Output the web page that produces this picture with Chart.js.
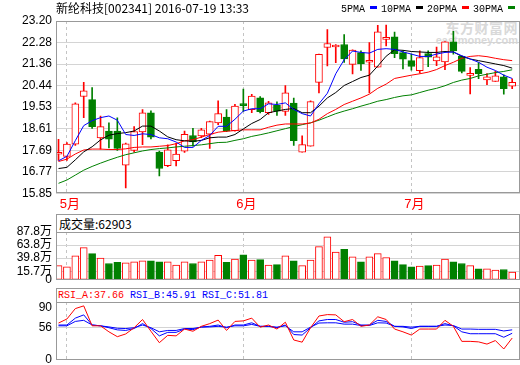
<!DOCTYPE html>
<html>
<head>
<meta charset="utf-8">
<title>新纶科技 002341</title>
<script src="https://cdn.jsdelivr.net/npm/chart.js@4.4.1/dist/chart.umd.min.js"></script>
<style>
  body { margin: 0; width: 520px; height: 365px; background: #fff; position: relative; overflow: hidden; }
  canvas { position: absolute; left: 0; }
  #mainChart { top: 0; }
  #volChart { top: 214px; }
  #rsiChart { top: 288px; }
  .txt { position: absolute; white-space: nowrap; }
  #title { left: 56px; top: 1px; font: 12px/14px "Noto Sans CJK SC", sans-serif; color: #000; }
  #legend { left: 341px; top: 4px; font: 10px/12px "Liberation Mono", monospace; color: #000; }
  #legend i { display: inline-block; width: 7px; height: 3px; margin: 0 4px 0 5px; vertical-align: 3px; }
  .wm { position: absolute; right: 2px; color: #d9d9d9; font-weight: bold; white-space: nowrap; }
  #wm1 { top: 19px; font: bold 14px/16px "Noto Sans CJK SC", sans-serif; letter-spacing: 0.5px; }
  #wm2 { top: 34px; font: bold 11px/12px "Liberation Sans", sans-serif; }
  .head { position: absolute; left: 56px; width: 464px; box-sizing: border-box; border: 1px solid #999; background: #fff; white-space: nowrap; }
  #volHead { top: 214px; height: 19px; padding-left: 2px; font: 12px/17px "Noto Sans CJK SC", sans-serif; }
  #rsiHead { top: 288px; height: 15px; padding-left: 1px; font: 10px/13px "Liberation Mono", monospace; }
</style>
</head>
<body>
<div class="wm" id="wm1">东方财富网</div>
<div class="wm" id="wm2">eastmoney.com</div>
<canvas id="mainChart" width="520" height="215"></canvas>
<canvas id="volChart" width="520" height="77"></canvas>
<canvas id="rsiChart" width="520" height="83"></canvas>
<div class="txt" id="title">新纶科技[002341] 2016-07-19 13:33</div>
<div class="txt" id="legend">5PMA<i style="background:#0000ff"></i>10PMA<i style="background:#000"></i>20PMA<i style="background:#ff0000"></i>30PMA<i style="background:#008000"></i></div>
<div class="head" id="volHead">成交量:62903</div>
<div class="head" id="rsiHead"><span style="color:#ff0000">RSI_A:37.66</span> <span style="color:#0000ff">RSI_B:45.91</span> <span style="color:#0000ff">RSI_C:51.81</span></div>
<script>
// daily candles, 2016-04-29 .. 2016-07-19
const opens  = [17.52,17.43,17.95,19.98,19.85,18.21,18.51,18.51,17.05,17.68, 18.47,19.29,17.61,17.03,17.25,17.65,18.32,18.30,18.37,18.86, 19.10,18.52,19.63,19.42,19.92,19.29,19.61,19.34,19.70,17.61, 17.86,20.58,22.07,22.09,22.20,21.35,21.85,21.44,21.23,22.42, 22.53,21.85,21.51,21.08,21.81,21.50,21.46,22.31,21.69,20.88, 21.14,20.69,20.62,20.82,20.42];
const highs  = [18.16,18.02,19.71,20.59,20.36,19.15,18.86,19.07,18.00,18.70, 19.42,19.37,17.65,17.92,17.98,18.51,18.62,18.62,18.93,19.80, 19.42,19.65,20.30,20.07,19.98,19.78,19.75,20.45,19.91,18.30, 19.80,21.79,22.83,22.20,22.62,21.97,21.93,22.28,23.02,23.03, 22.73,21.93,21.79,21.93,21.93,22.09,22.32,22.76,21.72,21.21, 21.43,20.96,21.05,20.91,20.73];
const lows   = [17.26,17.26,17.90,19.08,18.62,17.74,17.79,17.68,16.08,17.61, 17.93,18.17,16.59,16.99,17.02,17.60,17.86,18.23,17.77,18.78, 18.48,18.50,19.35,19.29,19.28,19.22,19.17,19.17,17.90,17.61, 17.86,20.13,21.29,21.42,21.43,20.94,21.09,20.13,21.23,22.14, 21.64,21.16,21.10,20.98,21.25,21.30,21.13,21.79,20.99,20.09, 20.74,20.49,20.62,20.08,20.31];
const closes = [17.55,17.95,19.67,20.22,18.70,18.70,18.16,17.77,17.96,18.49, 19.29,18.25,16.91,17.71,17.53,18.37,18.05,18.56,18.91,19.25, 18.50,19.57,19.59,20.00,19.33,19.71,19.36,20.14,18.10,17.93, 19.76,21.78,22.24,22.11,21.58,21.96,21.37,21.52,22.74,22.45, 21.81,21.57,21.26,21.64,21.66,21.67,22.31,21.92,21.05,20.97, 20.95,20.82,20.86,20.32,20.58];

// moving averages
const ma5  = [17.24,17.43,18.10,18.74,18.95,19.08,19.15,18.97,18.36,18.32, 18.39,18.36,18.22,18.18,18.04,17.81,17.81,18.11,18.32,18.71, 18.71,19.01,19.36,19.46,19.46,19.67,19.64,19.71,19.43,19.25, 19.15,19.67,20.12,20.95,21.55,21.92,21.86,21.83,21.99,22.02, 21.99,21.88,21.79,21.69,21.69,21.79,21.86,21.88,21.72,21.58, 21.44,21.23,21.09,20.89,20.75];
const ma10 = [16.91,16.96,17.28,17.62,17.84,18.13,18.33,18.40,18.44,18.51, 18.72,18.72,18.51,18.26,18.14,18.09,18.07,18.11,18.22,18.25, 18.25,18.36,18.60,18.83,19.00,19.29,19.36,19.43,19.47,19.29, 19.29,19.57,19.92,20.15,20.45,20.62,20.79,20.89,21.28,21.70, 21.97,21.95,21.90,21.88,21.86,21.86,21.90,21.88,21.69,21.58, 21.51,21.44,21.37,21.30,21.19];
const ma20 = [17.21,17.31,17.53,17.70,17.74,17.74,17.72,17.72,17.75,17.81, 17.83,17.83,17.86,17.89,17.97,18.09,18.14,18.25,18.36,18.46, 18.50,18.53,18.56,18.56,18.56,18.67,18.76,18.81,18.81,18.81, 18.85,19.01,19.25,19.43,19.64,19.78,19.92,20.08,20.33,20.51, 20.75,20.82,20.89,20.95,21.02,21.13,21.30,21.44,21.61,21.69, 21.72,21.68,21.61,21.55,21.51];
const ma30 = [16.28,16.42,16.63,16.84,17.00,17.14,17.27,17.39,17.50,17.58, 17.66,17.72,17.76,17.79,17.83,17.86,17.89,17.92,17.97,18.02, 18.03,18.11,18.18,18.28,18.35,18.43,18.52,18.61,18.70,18.78, 18.86,18.97,19.11,19.25,19.36,19.46,19.57,19.67,19.78,19.85, 19.94,20.01,20.05,20.15,20.25,20.33,20.44,20.58,20.68,20.75, 20.86,20.93,21.00,21.05,21.12];

// volume in 万
const volumes = [26,24,44,59,48,40,30,32,31,33, 35,35,33,33,27,33,30,33,36,45, 32,38,46,36,37,27,28,44,35,26, 36,61,79,51,56,42,33,42,48,41, 35,28,24,25,26,27,38,33,30,26, 20,20,18,19,14];

const rsiA = [63.6,70.6,88.6,93.3,58.8,58.8,48.4,40.0,44.7,55.5, 69.7,49.4,29.6,42.3,41.4,53.2,49.4,57.9,62.6,68.7, 50.8,66.4,67.3,72.1,56.5,60.2,53.2,65.0,34.3,30.5, 55.5,75.8,78.2,77.7,65.9,69.7,57.9,60.2,74.4,69.7, 53.2,48.4,42.8,53.2,53.2,53.2,68.3,57.9,31.9,31.9, 31.0,27.2,33.3,18.7,37.66];
const rsiB = [60.2,60.2,72.1,77.7,60.2,58.8,55.5,51.8,50.8,54.1, 62.6,54.1,41.4,47.5,47.5,53.2,52.2,56.9,57.9,60.2, 55.5,60.2,60.2,64.0,57.9,57.9,55.5,60.2,43.7,42.8, 55.5,67.3,69.7,69.7,65.0,65.9,60.2,60.2,68.3,66.4, 57.9,56.9,54.1,57.9,57.9,57.9,62.6,58.8,48.4,45.1, 45.1,45.1,45.1,39.0,45.91];
const rsiC = [58.8,58.8,66.4,68.3,60.2,58.8,56.9,54.6,54.1,55.5, 60.2,55.5,48.4,50.8,50.8,54.1,54.1,56.5,56.9,57.9, 56.5,58.8,58.8,61.2,57.9,57.9,56.5,58.8,48.4,48.4, 56.5,63.6,64.0,64.0,61.7,61.7,59.3,59.3,64.0,63.6, 57.9,57.9,56.5,57.9,57.9,57.9,60.2,59.3,53.2,53.2, 52.7,52.7,52.7,49.9,51.81];

const priceTicks = [15.85, 16.77, 17.69, 18.61, 19.53, 20.44, 21.36, 22.28, 23.20];
const volTicks = [0, 15.7, 39.8, 63.8, 87.8];
const rsiTicks = [0, 56, 90];
const monthStart = [1, 22, 42];
const monthNames = ['5月', '6月', '7月'];

const upColor = '#ff0000';
const downColor = '#008000';
const idx = closes.map((c, i) => i);
const isUp = closes.map((c, i) => c >= opens[i]);

Chart.defaults.font.family = '"Liberation Sans", "Noto Sans CJK SC", sans-serif';
Chart.defaults.font.size = 12;
Chart.defaults.color = '#000';

// box around the plot area
const frameBox = {
    id: 'frameBox',
    afterDraw(chart) {
        const a = chart.chartArea;
        const ctx = chart.ctx;
        const x1 = Math.round(a.left) + 0.5, y1 = Math.round(a.top) + 0.5;
        const x2 = Math.round(a.right) - 0.5, y2 = Math.round(a.bottom) - 0.5;
        ctx.save();
        ctx.strokeStyle = '#999';
        ctx.lineWidth = 1;
        ctx.strokeRect(x1, y1, x2 - x1, y2 - y1);
        ctx.restore();
    }
};

function makeX(showLabels) {
    return {
        type: 'linear',
        min: -0.3,
        max: 54.93,
        offset: false,
        afterBuildTicks: s => { s.ticks = monthStart.map(v => ({ value: v })); },
        grid: { color: '#c4c4c4', drawTicks: false, offset: false },
        border: { display: false, dash: [3, 3] },
        ticks: {
            display: showLabels,
            autoSkip: false,
            maxRotation: 0,
            padding: 3,
            labelOffset: 3,
            color: '#ff0000',
            font: { size: 13 },
            callback: v => monthNames[monthStart.indexOf(v)] || ''
        }
    };
}

function makeY(min, max, tickList, gridColor, fmt) {
    return {
        min: min,
        max: max,
        afterBuildTicks: s => { s.ticks = tickList.map(v => ({ value: v })); },
        afterFit: s => { s.width = 56; },
        grid: { color: gridColor, drawTicks: false },
        border: { display: false },
        ticks: { padding: 4, autoSkip: false, callback: fmt }
    };
}

function lineSet(values, color) {
    return {
        type: 'line',
        data: values.map((v, i) => ({ x: i, y: v })),
        borderColor: color,
        borderWidth: 1,
        pointRadius: 0,
        tension: 0,
        order: 1
    };
}

const baseOptions = {
    responsive: false,
    animation: false,
    plugins: { legend: { display: false }, tooltip: { enabled: false } }
};

new Chart(document.getElementById('mainChart'), {
    type: 'line',
    data: {
        datasets: [
            {
                type: 'bar',
                data: idx.map(i => ({ x: i, y: [lows[i], highs[i]] })),
                backgroundColor: idx.map(i => isUp[i] ? upColor : downColor),
                barThickness: 1,
                grouped: false,
                order: 3
            },
            {
                type: 'bar',
                data: idx.map(i => ({ x: i, y: [opens[i], closes[i]] })),
                backgroundColor: idx.map(i => isUp[i] ? '#ffffff' : downColor),
                borderColor: idx.map(i => isUp[i] ? upColor : downColor),
                borderWidth: 1,
                borderSkipped: false,
                minBarLength: 2,
                barThickness: 7,
                grouped: false,
                order: 2
            },
            lineSet(ma5, '#0000ff'),
            lineSet(ma10, '#000000'),
            lineSet(ma20, '#ff0000'),
            lineSet(ma30, '#008000')
        ]
    },
    options: Object.assign({}, baseOptions, {
        layout: { padding: { top: 21, right: 0, bottom: 0, left: 0 } },
        scales: {
            x: makeX(true),
            y: makeY(15.85, 23.20, priceTicks, '#d4d4d4', v => v.toFixed(2))
        }
    }),
    plugins: [frameBox]
});

new Chart(document.getElementById('volChart'), {
    type: 'line',
    data: {
        datasets: [{
            type: 'bar',
            data: idx.map(i => ({ x: i, y: volumes[i] })),
            backgroundColor: idx.map(i => isUp[i] ? '#ffffff' : downColor),
            borderColor: idx.map(i => isUp[i] ? upColor : downColor),
            borderWidth: 1,
            borderSkipped: false,
            barThickness: 7,
            grouped: false
        }]
    },
    options: Object.assign({}, baseOptions, {
        layout: { padding: { top: 18, right: 0, bottom: 8, left: 0 } },
        scales: {
            x: makeX(false),
            y: makeY(0, 87.8, volTicks,
                c => (c.tick && c.tick.value > 0 && c.tick.value < 87.8) ? '#d4d4d4' : 'rgba(0,0,0,0)',
                v => v === 0 ? '0' : v + '万')
        }
    }),
    plugins: [frameBox]
});

new Chart(document.getElementById('rsiChart'), {
    type: 'line',
    data: {
        datasets: [
            lineSet(rsiA, '#ff0000'),
            lineSet(rsiB, '#0000ff'),
            lineSet(rsiC, '#0000ff')
        ]
    },
    options: Object.assign({}, baseOptions, {
        layout: { padding: { top: 14, right: 0, bottom: 6, left: 0 } },
        scales: {
            x: makeX(false),
            y: makeY(0, 100, rsiTicks,
                c => (c.tick && c.tick.value === 56) ? '#d4d4d4' : 'rgba(0,0,0,0)',
                v => String(v))
        }
    }),
    plugins: [frameBox]
});
</script>
</body>
</html>
